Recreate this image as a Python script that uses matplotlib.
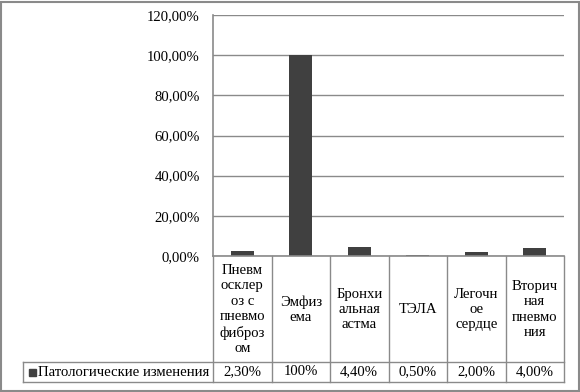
import matplotlib
matplotlib.use("Agg")
import matplotlib.pyplot as plt
from matplotlib.patches import Rectangle
from matplotlib.lines import Line2D
from matplotlib.ticker import FuncFormatter

categories = [
    "Пневм\nосклер\nоз с\nпневмо\nфиброз\nом",
    "Эмфиз\nема",
    "Бронхи\nальная\nастма",
    "ТЭЛА",
    "Легочн\nое\nсердце",
    "Вторич\nная\nпневмо\nния",
]
values = [2.3, 100, 4.4, 0.5, 2.0, 4.0]
value_labels = ["2,30%", "100%", "4,40%", "0,50%", "2,00%", "4,00%"]
series_name = "Патологические изменения"
y_ticks = [0, 20, 40, 60, 80, 100, 120]

W, H = 580, 392
FAM = "Liberation Serif"
plt.rcParams['font.family'] = FAM
fig = plt.figure(figsize=(W / 100, H / 100), dpi=100)

GRAY = "#8a8a8a"
BAR = "#404040"
FS = 10.6

# plot area in pixels
L, R, T, B = 213, 564, 15, 256
ax = fig.add_axes([L / W, 1 - B / H, (R - L) / W, (B - T) / H])
x = list(range(len(categories)))
ax.bar(x, values, width=0.4, color=BAR, zorder=2)
ax.set_xlim(-0.5, len(categories) - 0.5)
ax.set_ylim(0, 120)
ax.set_yticks(y_ticks)
ax.yaxis.set_major_formatter(FuncFormatter(lambda v, p: f"{v:.2f}%".replace(".", ",")))
ax.tick_params(axis="y", length=0, pad=9.4, labelsize=FS)
for lab in ax.get_yticklabels():
    lab.set_family(FAM)
ax.set_xticks([])
ax.grid(axis="y", color=GRAY, lw=1, zorder=0)
for s in ["top", "right"]:
    ax.spines[s].set_visible(False)
for s in ["left", "bottom"]:
    ax.spines[s].set_color(GRAY)
    ax.spines[s].set_linewidth(1.2)
    ax.spines[s].set_zorder(4)

# table geometry (pixels) -> axes-y coordinates
ah = B - T
def ay(ypix):
    return -(ypix - B) / ah
cw = (R - L) / len(categories)
def dx(xpix):
    return (xpix - L) / cw - 0.5

tr = ax.get_xaxis_transform()
row1_bot = 362
row2_bot = 382
legend_left = 23

# vertical lines
for k in range(len(categories) + 1):
    xv = k - 0.5
    ax.add_line(Line2D([xv, xv], [ay(B), ay(row2_bot)], transform=tr, color=GRAY,
                       lw=1, clip_on=False))
ax.add_line(Line2D([dx(legend_left)] * 2, [ay(row1_bot), ay(row2_bot)], transform=tr,
                   color=GRAY, lw=1, clip_on=False))
for yy in [row1_bot, row2_bot]:
    ax.add_line(Line2D([dx(legend_left), len(categories) - 0.5], [ay(yy), ay(yy)],
                       transform=tr, color=GRAY, lw=1, clip_on=False))

# category labels
for i, c in enumerate(categories):
    ax.text(i, ay((B + row1_bot) / 2 + 0.5), c, transform=tr, ha="center", va="center",
            fontsize=FS, family=FAM, linespacing=1.24, clip_on=False)
    ax.text(i, ay((row1_bot + row2_bot) / 2), value_labels[i], transform=tr,
            ha="center", va="center", fontsize=FS, family=FAM, clip_on=False)

# legend key
ymid = (row1_bot + row2_bot) / 2
fig.patches.append(Rectangle((29 / W, 1 - (ymid + 3.5) / H), 7 / W, 7 / H,
                             transform=fig.transFigure, color=BAR))
fig.text(38 / W, 1 - ymid / H, series_name, ha="left", va="center", fontsize=FS,
         family=FAM)

# outer frame
fig.patches.append(Rectangle((1 / W, 1.5 / H), 578 / W, 389 / H, transform=fig.transFigure,
                             fill=False, edgecolor=GRAY, lw=1.5))

fig.savefig("out.png", dpi=100)
